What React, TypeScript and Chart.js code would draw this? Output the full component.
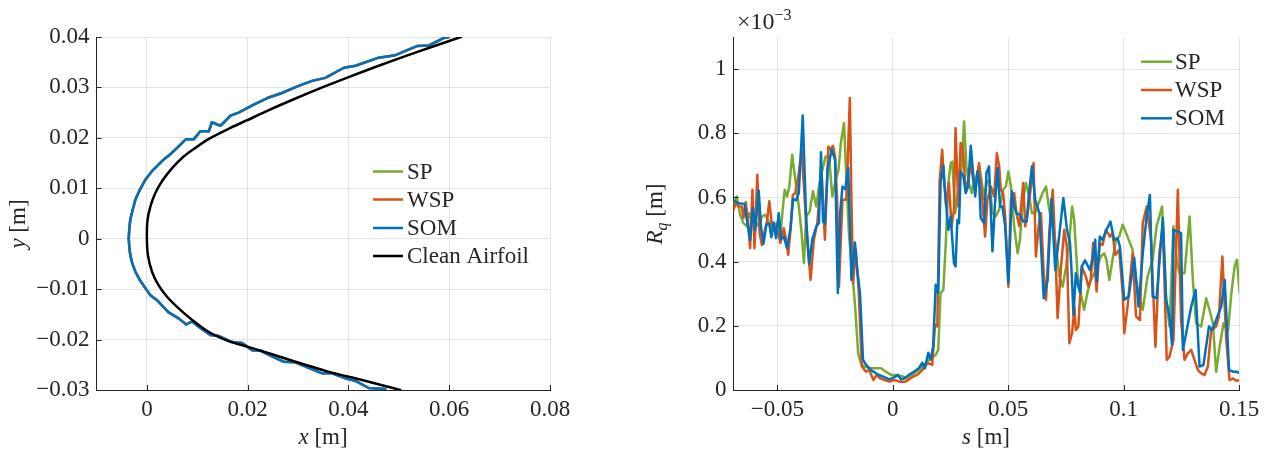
import React, { useEffect, useRef } from 'react';
import { Chart, registerables } from 'chart.js';

Chart.register(...registerables);

const FONT = '"Liberation Serif", "Times New Roman", serif';
const TXT = '#262626';
const GRID = '#e3e3e3';
const C_SP = '#77AC30';
const C_WSP = '#D95319';
const C_SOM = '#0072BD';
const C_CLEAN = '#000000';

// ---- tick labels ----
const airfoilXTicks = [0, 0.02, 0.04, 0.06, 0.08];
const airfoilYTicks = [-0.03, -0.02, -0.01, 0, 0.01, 0.02, 0.03, 0.04];
const rqXTicks = [-0.05, 0, 0.05, 0.1, 0.15];
const rqYTicks = [0, 0.2, 0.4, 0.6, 0.8, 1];

const airfoilLegend = ['SP', 'WSP', 'SOM', 'Clean Airfoil'];
const rqLegend = ['SP', 'WSP', 'SOM'];

// ---- left plot: airfoil contours [x, y] in m ----
const cleanAirfoil: [number, number][] = [
  [0.0623, 0.04], [0.0527, 0.0367], [0.046, 0.0343], [0.0399, 0.032], [0.0348, 0.03],
  [0.0295, 0.0278], [0.0242, 0.0255], [0.0199, 0.0235], [0.0162, 0.0218], [0.0123, 0.0198],
  [0.0096, 0.018], [0.0073, 0.0163], [0.005, 0.014], [0.003, 0.0114], [0.0017, 0.0091],
  [0.0007, 0.0064], [0.0001, 0.0035], [0, 0], [0.0002, -0.0032], [0.001, -0.0065],
  [0.0023, -0.0092], [0.004, -0.0115], [0.0063, -0.0138], [0.009, -0.0161], [0.0123, -0.0185],
  [0.0162, -0.0203], [0.0199, -0.0214], [0.0242, -0.0227], [0.0295, -0.0244], [0.0361, -0.0264],
  [0.0427, -0.028], [0.0503, -0.03],
];

const somAirfoil: [number, number][] = [
  [0.0599, 0.04], [0.0589, 0.0398], [0.0559, 0.0383], [0.0536, 0.0382], [0.0493, 0.0364],
  [0.046, 0.0359], [0.0414, 0.0343], [0.0391, 0.0339], [0.0354, 0.0319], [0.0328, 0.0313],
  [0.0301, 0.0303], [0.0268, 0.0289], [0.0239, 0.0279], [0.0212, 0.0266], [0.0182, 0.025],
  [0.0166, 0.0244], [0.0146, 0.0224], [0.0129, 0.0231], [0.0123, 0.0213], [0.0106, 0.0213],
  [0.0093, 0.0197], [0.0077, 0.0197], [0.006, 0.018], [0.0047, 0.0168], [0.003, 0.0154],
  [0.001, 0.0134], [-0.0003, 0.0117], [-0.0014, 0.0097], [-0.0023, 0.0077], [-0.0028, 0.0058],
  [-0.0033, 0.0038], [-0.0035, 0.0018], [-0.0036, 0], [-0.0035, -0.0016], [-0.0033, -0.0032],
  [-0.0029, -0.0049], [-0.0023, -0.0065], [-0.0014, -0.0082], [-0.0003, -0.0098], [0.0007, -0.0112],
  [0.002, -0.0122], [0.0043, -0.0146], [0.0063, -0.0158], [0.0078, -0.017], [0.009, -0.0164],
  [0.0106, -0.0177], [0.0126, -0.0191], [0.0143, -0.0193], [0.0169, -0.0205], [0.0189, -0.0207],
  [0.0209, -0.0221], [0.0225, -0.0222], [0.0249, -0.0234], [0.0272, -0.0244], [0.0295, -0.0245],
  [0.0321, -0.0256], [0.0348, -0.0267], [0.0368, -0.0267], [0.0394, -0.0277], [0.0414, -0.0282],
  [0.044, -0.0296], [0.0473, -0.0298],
];
// SP and WSP reconstructions lie underneath SOM in the picture
const spAirfoil = somAirfoil;
const wspAirfoil = somAirfoil;

// ---- right plot: R_q (x 1e-3 m) along s [m] ----
const spRq: [number, number][] = [
  [-0.0693, 0.572], [-0.0676, 0.603], [-0.0661, 0.546], [-0.0647, 0.52], [-0.0632, 0.51],
  [-0.0622, 0.551], [-0.061, 0.53], [-0.0596, 0.525], [-0.0581, 0.51], [-0.0567, 0.541],
  [-0.0552, 0.546], [-0.0541, 0.53], [-0.0523, 0.51], [-0.0501, 0.52], [-0.0487, 0.478],
  [-0.0477, 0.562], [-0.0468, 0.624], [-0.0458, 0.603], [-0.0448, 0.634], [-0.0436, 0.733],
  [-0.0422, 0.655], [-0.0407, 0.572], [-0.0395, 0.489], [-0.0385, 0.395], [-0.0375, 0.541],
  [-0.036, 0.556], [-0.0346, 0.619], [-0.0331, 0.572], [-0.032, 0.634], [-0.0305, 0.686],
  [-0.0291, 0.728], [-0.0276, 0.728], [-0.0262, 0.603], [-0.025, 0.645], [-0.0235, 0.686],
  [-0.0225, 0.77], [-0.0211, 0.832], [-0.0201, 0.655], [-0.0189, 0.478], [-0.0174, 0.354],
  [-0.0163, 0.26], [-0.015, 0.114], [-0.0138, 0.083], [-0.0124, 0.073], [-0.0102, 0.068],
  [-0.0073, 0.068], [-0.0051, 0.068], [-0.0029, 0.057], [-0.0007, 0.047], [0.0015, 0.047],
  [0.0044, 0.042], [0.0055, 0.036], [0.0084, 0.047], [0.0113, 0.062], [0.0142, 0.083],
  [0.0164, 0.099], [0.0186, 0.109], [0.0197, 0.125], [0.0207, 0.302], [0.0219, 0.312],
  [0.0229, 0.447], [0.0241, 0.645], [0.0251, 0.707], [0.0258, 0.712], [0.027, 0.551],
  [0.0284, 0.624], [0.0299, 0.697], [0.0309, 0.837], [0.0319, 0.697], [0.033, 0.645],
  [0.0342, 0.614], [0.0352, 0.655], [0.0362, 0.666], [0.0374, 0.697], [0.0386, 0.645],
  [0.0396, 0.593], [0.0406, 0.645], [0.0417, 0.655], [0.0432, 0.551], [0.0446, 0.541],
  [0.0461, 0.562], [0.0478, 0.624], [0.049, 0.634], [0.0501, 0.681], [0.0512, 0.634],
  [0.0526, 0.51], [0.0541, 0.426], [0.0551, 0.468], [0.0562, 0.582], [0.0577, 0.645],
  [0.0591, 0.603], [0.0603, 0.551], [0.0617, 0.551], [0.0632, 0.582], [0.0649, 0.614],
  [0.0664, 0.634], [0.0678, 0.562], [0.0693, 0.51], [0.0707, 0.447], [0.0722, 0.354],
  [0.0736, 0.322], [0.0751, 0.385], [0.0765, 0.468], [0.0777, 0.572], [0.0786, 0.53],
  [0.08, 0.364], [0.0814, 0.302], [0.0829, 0.25], [0.0843, 0.302], [0.0858, 0.343],
  [0.088, 0.374], [0.0901, 0.416], [0.0916, 0.426], [0.0926, 0.406], [0.0938, 0.343],
  [0.0952, 0.406], [0.0967, 0.468], [0.0981, 0.478], [0.0996, 0.515], [0.1017, 0.478],
  [0.1039, 0.437], [0.1054, 0.343], [0.1068, 0.291], [0.1083, 0.25], [0.1104, 0.354],
  [0.1126, 0.406], [0.1143, 0.51], [0.1155, 0.541], [0.1167, 0.572], [0.1184, 0.291],
  [0.1199, 0.198], [0.1216, 0.51], [0.123, 0.406], [0.1242, 0.364], [0.1264, 0.364],
  [0.1286, 0.541], [0.13, 0.343], [0.1314, 0.208], [0.1336, 0.198], [0.1358, 0.286],
  [0.1372, 0.25], [0.1387, 0.208], [0.1401, 0.057], [0.1416, 0.135], [0.1433, 0.208],
  [0.1452, 0.182], [0.1467, 0.302], [0.1481, 0.385], [0.1491, 0.406], [0.1503, 0.302],
];

const wspRq: [number, number][] = [
  [-0.0693, 0.556], [-0.068, 0.582], [-0.0669, 0.572], [-0.0654, 0.572], [-0.0647, 0.536],
  [-0.0637, 0.585], [-0.0628, 0.53], [-0.0618, 0.442], [-0.0608, 0.624], [-0.0599, 0.442],
  [-0.0587, 0.671], [-0.0577, 0.489], [-0.0567, 0.452], [-0.0555, 0.494], [-0.0545, 0.525],
  [-0.0535, 0.588], [-0.0523, 0.51], [-0.0509, 0.51], [-0.0497, 0.489], [-0.0487, 0.458],
  [-0.0472, 0.504], [-0.0462, 0.468], [-0.0453, 0.421], [-0.0443, 0.499], [-0.0433, 0.608],
  [-0.0422, 0.614], [-0.0407, 0.676], [-0.0395, 0.749], [-0.0384, 0.624], [-0.0371, 0.468],
  [-0.0356, 0.343], [-0.0342, 0.468], [-0.0327, 0.52], [-0.0308, 0.676], [-0.0294, 0.468],
  [-0.0279, 0.759], [-0.0269, 0.749], [-0.0259, 0.761], [-0.025, 0.728], [-0.0241, 0.593],
  [-0.0233, 0.322], [-0.0218, 0.593], [-0.0201, 0.593], [-0.0186, 0.91], [-0.0179, 0.593],
  [-0.0172, 0.333], [-0.016, 0.437], [-0.0148, 0.312], [-0.0134, 0.073], [-0.0116, 0.057],
  [-0.0102, 0.062], [-0.0084, 0.031], [-0.007, 0.047], [-0.0055, 0.036], [-0.0036, 0.031],
  [-0.0015, 0.026], [0.0007, 0.031], [0.0029, 0.026], [0.0055, 0.026], [0.0084, 0.04],
  [0.0106, 0.047], [0.0128, 0.062], [0.0142, 0.078], [0.0157, 0.083], [0.0171, 0.078],
  [0.0183, 0.203], [0.0193, 0.198], [0.0203, 0.65], [0.0214, 0.749], [0.0222, 0.655],
  [0.0232, 0.572], [0.0243, 0.645], [0.0255, 0.51], [0.0265, 0.562], [0.0272, 0.816],
  [0.0284, 0.572], [0.0294, 0.77], [0.0304, 0.749], [0.0316, 0.624], [0.0328, 0.655],
  [0.0338, 0.707], [0.0348, 0.655], [0.0359, 0.634], [0.0374, 0.707], [0.0388, 0.593],
  [0.04, 0.478], [0.041, 0.593], [0.0425, 0.634], [0.0439, 0.603], [0.0451, 0.738],
  [0.0461, 0.697], [0.0468, 0.624], [0.0478, 0.614], [0.0487, 0.541], [0.0501, 0.322],
  [0.0512, 0.593], [0.0526, 0.614], [0.0536, 0.551], [0.0548, 0.51], [0.0565, 0.645],
  [0.0574, 0.51], [0.0584, 0.551], [0.0599, 0.634], [0.061, 0.707], [0.062, 0.416],
  [0.0632, 0.51], [0.0642, 0.551], [0.0654, 0.364], [0.0664, 0.281], [0.0678, 0.489],
  [0.0693, 0.624], [0.0704, 0.447], [0.0714, 0.224], [0.0729, 0.385], [0.0743, 0.499],
  [0.0754, 0.447], [0.0765, 0.146], [0.0777, 0.177], [0.0787, 0.26], [0.0793, 0.187],
  [0.0804, 0.198], [0.0819, 0.385], [0.0836, 0.354], [0.0848, 0.322], [0.0858, 0.343],
  [0.0868, 0.458], [0.0883, 0.307], [0.0897, 0.458], [0.0909, 0.452], [0.0923, 0.499],
  [0.0941, 0.478], [0.0952, 0.489], [0.0964, 0.421], [0.0981, 0.437], [0.0996, 0.302],
  [0.1003, 0.177], [0.1017, 0.26], [0.1039, 0.426], [0.1054, 0.229], [0.1071, 0.218],
  [0.1083, 0.52], [0.11, 0.572], [0.1119, 0.468], [0.1138, 0.135], [0.1155, 0.426],
  [0.117, 0.51], [0.1187, 0.094], [0.1199, 0.104], [0.1216, 0.156], [0.1235, 0.624],
  [0.1249, 0.218], [0.1264, 0.094], [0.1278, 0.114], [0.1293, 0.125], [0.1307, 0.094],
  [0.1322, 0.062], [0.1336, 0.052], [0.1351, 0.047], [0.1365, 0.073], [0.138, 0.187],
  [0.1401, 0.198], [0.1413, 0.229], [0.1428, 0.416], [0.1445, 0.156], [0.1459, 0.031],
  [0.1474, 0.036], [0.1488, 0.029], [0.1503, 0.031],
];

const somRq: [number, number][] = [
  [-0.0693, 0.593], [-0.0669, 0.582], [-0.0642, 0.58], [-0.0632, 0.53], [-0.0618, 0.468],
  [-0.0606, 0.567], [-0.0596, 0.499], [-0.0581, 0.622], [-0.0571, 0.51], [-0.056, 0.456],
  [-0.0548, 0.515], [-0.0535, 0.518], [-0.0526, 0.476], [-0.0516, 0.522], [-0.0506, 0.473],
  [-0.0494, 0.551], [-0.0484, 0.47], [-0.0472, 0.478], [-0.0458, 0.442], [-0.0443, 0.504],
  [-0.0432, 0.595], [-0.0419, 0.591], [-0.0407, 0.614], [-0.039, 0.855], [-0.0375, 0.53],
  [-0.0362, 0.393], [-0.0349, 0.468], [-0.0331, 0.51], [-0.032, 0.52], [-0.0311, 0.741],
  [-0.0302, 0.525], [-0.0294, 0.518], [-0.0282, 0.692], [-0.0273, 0.718], [-0.0265, 0.749],
  [-0.025, 0.718], [-0.0238, 0.302], [-0.0228, 0.551], [-0.0218, 0.634], [-0.0206, 0.626],
  [-0.0193, 0.692], [-0.0179, 0.343], [-0.0164, 0.46], [-0.0154, 0.374], [-0.0142, 0.302],
  [-0.0129, 0.094], [-0.0115, 0.078], [-0.0094, 0.062], [-0.0073, 0.052], [-0.0044, 0.042],
  [-0.0015, 0.033], [0.0007, 0.04], [0.0022, 0.047], [0.0036, 0.033], [0.0048, 0.036],
  [0.007, 0.047], [0.0091, 0.057], [0.0113, 0.068], [0.0128, 0.085], [0.0139, 0.068],
  [0.0154, 0.116], [0.0164, 0.094], [0.0175, 0.135], [0.0186, 0.328], [0.0197, 0.302],
  [0.0207, 0.645], [0.0219, 0.699], [0.0229, 0.593], [0.0241, 0.499], [0.0251, 0.541],
  [0.0265, 0.395], [0.0272, 0.385], [0.028, 0.53], [0.0287, 0.52], [0.0294, 0.681],
  [0.0306, 0.666], [0.0316, 0.614], [0.0326, 0.634], [0.0338, 0.761], [0.0348, 0.676],
  [0.0357, 0.603], [0.0367, 0.681], [0.0374, 0.655], [0.0381, 0.536], [0.0396, 0.52],
  [0.0406, 0.676], [0.0417, 0.697], [0.0432, 0.432], [0.0442, 0.572], [0.0454, 0.692],
  [0.0465, 0.572], [0.0475, 0.572], [0.0487, 0.51], [0.0501, 0.333], [0.0516, 0.619],
  [0.0526, 0.572], [0.0536, 0.551], [0.0551, 0.546], [0.0565, 0.525], [0.058, 0.525],
  [0.0591, 0.619], [0.0603, 0.697], [0.0617, 0.593], [0.0635, 0.551], [0.0654, 0.286],
  [0.0671, 0.343], [0.0687, 0.595], [0.0704, 0.374], [0.0719, 0.468], [0.0739, 0.598],
  [0.0755, 0.499], [0.0768, 0.458], [0.0775, 0.364], [0.0783, 0.234], [0.0793, 0.364],
  [0.0804, 0.322], [0.0812, 0.302], [0.0819, 0.385], [0.0833, 0.404], [0.0854, 0.374],
  [0.0868, 0.416], [0.0877, 0.468], [0.0884, 0.338], [0.0897, 0.478], [0.0909, 0.468],
  [0.0926, 0.499], [0.0943, 0.525], [0.0959, 0.468], [0.0974, 0.473], [0.0984, 0.447],
  [0.1003, 0.281], [0.1022, 0.291], [0.1046, 0.411], [0.1065, 0.26], [0.1083, 0.426],
  [0.11, 0.541], [0.1114, 0.608], [0.1126, 0.291], [0.1143, 0.286], [0.117, 0.536],
  [0.1184, 0.281], [0.1199, 0.229], [0.121, 0.14], [0.1216, 0.499], [0.1249, 0.489],
  [0.1257, 0.125], [0.1271, 0.177], [0.1293, 0.26], [0.1312, 0.312], [0.1329, 0.073],
  [0.1346, 0.078], [0.137, 0.198], [0.1384, 0.187], [0.1401, 0.218], [0.1423, 0.26],
  [0.1438, 0.343], [0.1457, 0.062], [0.1474, 0.057], [0.1488, 0.057], [0.1503, 0.052],
];

// ---------------------------------------------------------------------------

type Part = { t: string; italic?: boolean; size?: number; dy?: number };

function drawRich(ctx: CanvasRenderingContext2D, parts: Part[], x: number, y: number, align: 'left' | 'center') {
  const fontOf = (p: Part) => `${p.italic ? 'italic ' : ''}${p.size ?? 23}px ${FONT}`;
  let total = 0;
  const widths = parts.map((p) => {
    ctx.font = fontOf(p);
    const w = ctx.measureText(p.t).width;
    total += w;
    return w;
  });
  let cx = align === 'center' ? x - total / 2 : x;
  ctx.textAlign = 'left';
  ctx.textBaseline = 'alphabetic';
  ctx.fillStyle = TXT;
  parts.forEach((p, i) => {
    ctx.font = fontOf(p);
    ctx.fillText(p.t, cx, y + (p.dy ?? 0));
    cx += widths[i];
  });
}

const fmt = (v: number) => {
  if (Math.abs(v) < 1e-9) return '0';
  return String(parseFloat(v.toFixed(4))).replace('-', '\u2212');
};

type Overlay = {
  xTitle: Part[];
  xTitlePos: [number, number];
  yTitle: Part[];
  yTitlePos: [number, number];
  legend: { labels: string[]; colors: string[]; x0: number; x1: number; tx: number; ys: number[] };
  extra?: (ctx: CanvasRenderingContext2D) => void;
};

function overlayPlugin(o: Overlay) {
  return {
    id: 'overlay',
    afterDraw(chart: any) {
      const ctx: CanvasRenderingContext2D = chart.ctx;
      const area = chart.chartArea;
      const xs = chart.scales.x;
      const ys = chart.scales.y;
      ctx.save();
      // inward tick marks
      ctx.strokeStyle = TXT;
      ctx.lineWidth = 1;
      ctx.beginPath();
      xs.ticks.forEach((t: any) => {
        const px = Math.round(xs.getPixelForValue(t.value)) + 0.5;
        ctx.moveTo(px, area.bottom);
        ctx.lineTo(px, area.bottom - 5);
      });
      ys.ticks.forEach((t: any) => {
        const py = Math.round(ys.getPixelForValue(t.value)) + 0.5;
        ctx.moveTo(area.left, py);
        ctx.lineTo(area.left + 5, py);
      });
      ctx.stroke();
      // axis titles
      drawRich(ctx, o.xTitle, o.xTitlePos[0], o.xTitlePos[1], 'center');
      ctx.save();
      ctx.translate(o.yTitlePos[0], o.yTitlePos[1]);
      ctx.rotate(-Math.PI / 2);
      drawRich(ctx, o.yTitle, 0, 0, 'center');
      ctx.restore();
      // legend
      const L = o.legend;
      L.labels.forEach((lab, i) => {
        ctx.strokeStyle = L.colors[i];
        ctx.lineWidth = 2.5;
        ctx.beginPath();
        ctx.moveTo(L.x0, L.ys[i]);
        ctx.lineTo(L.x1, L.ys[i]);
        ctx.stroke();
        ctx.fillStyle = TXT;
        ctx.font = `23px ${FONT}`;
        ctx.textAlign = 'left';
        ctx.textBaseline = 'middle';
        ctx.fillText(lab, L.tx, L.ys[i] + 1);
      });
      if (o.extra) o.extra(ctx);
      ctx.restore();
    },
  };
}

const lineDs = (label: string, pts: [number, number][], color: string, order: number) => ({
  label,
  data: pts.map(([x, y]) => ({ x, y })),
  borderColor: color,
  backgroundColor: color,
  borderWidth: 2.5,
  pointRadius: 0,
  showLine: true,
  tension: 0,
  borderJoinStyle: 'round' as const,
  borderCapStyle: 'round' as const,
  order,
});

function axisOpts(min: number, max: number, ticks: number[], fit: (s: any) => void, pad: number) {
  return {
    type: 'linear' as const,
    min,
    max,
    afterBuildTicks: (s: any) => {
      s.ticks = ticks.map((v) => ({ value: v }));
    },
    afterFit: fit,
    grid: { color: GRID, lineWidth: 1, drawTicks: false },
    border: { display: true, color: TXT, width: 1 },
    ticks: {
      padding: pad,
      color: TXT,
      font: { family: FONT, size: 23 },
      callback: (v: any) => fmt(Number(v)),
      autoSkip: false,
      maxRotation: 0,
    },
  };
}

export default function App() {
  const leftRef = useRef<HTMLCanvasElement>(null);
  const rightRef = useRef<HTMLCanvasElement>(null);

  useEffect(() => {
    const left = new Chart(leftRef.current!, {
      type: 'scatter',
      data: {
        datasets: [
          lineDs('SP', spAirfoil, C_SP, 3),
          lineDs('WSP', wspAirfoil, C_WSP, 2),
          lineDs('SOM', somAirfoil, C_SOM, 1),
          { ...lineDs('Clean Airfoil', cleanAirfoil, C_CLEAN, 0), tension: 0.25 },
        ],
      },
      options: {
        animation: false,
        responsive: false,
        maintainAspectRatio: false,
        layout: { padding: { top: 37, right: 50, left: 0, bottom: 0 } },
        plugins: { legend: { display: false }, tooltip: { enabled: false } },
        scales: {
          x: axisOpts(-0.01, 0.08, airfoilXTicks, (s) => { s.height = 63; }, 6),
          y: axisOpts(-0.03, 0.04, airfoilYTicks, (s) => { s.width = 96.5; }, 7),
        },
      },
      plugins: [
        overlayPlugin({
          xTitle: [{ t: 'x', italic: true }, { t: ' [m]' }],
          xTitlePos: [323, 444],
          yTitle: [{ t: 'y', italic: true }, { t: ' [m]' }],
          yTitlePos: [25, 224],
          legend: {
            labels: airfoilLegend,
            colors: [C_SP, C_WSP, C_SOM, C_CLEAN],
            x0: 373,
            x1: 403,
            tx: 407,
            ys: [171.5, 199.5, 228, 256],
          },
        }),
      ],
    } as any);

    const OFF = 600;
    const right = new Chart(rightRef.current!, {
      type: 'scatter',
      data: {
        datasets: [
          lineDs('SP', spRq, C_SP, 3),
          lineDs('WSP', wspRq, C_WSP, 2),
          lineDs('SOM', somRq, C_SOM, 1),
        ],
      },
      options: {
        animation: false,
        responsive: false,
        maintainAspectRatio: false,
        layout: { padding: { top: 37, right: 31, left: 0, bottom: 0 } },
        plugins: { legend: { display: false }, tooltip: { enabled: false } },
        scales: {
          x: axisOpts(-0.069, 0.15, rqXTicks, (s) => { s.height = 63; }, 6),
          y: axisOpts(0, 1.1, rqYTicks, (s) => { s.width = 133.5; }, 7),
        },
      },
      plugins: [
        overlayPlugin({
          xTitle: [{ t: 's', italic: true }, { t: ' [m]' }],
          xTitlePos: [986 - OFF, 444],
          yTitle: [{ t: 'R', italic: true }, { t: 'q', italic: true, size: 16, dy: 5 }, { t: ' [m]' }],
          yTitlePos: [662 - OFF, 214],
          legend: {
            labels: rqLegend,
            colors: [C_SP, C_WSP, C_SOM],
            x0: 1141 - OFF,
            x1: 1172 - OFF,
            tx: 1175 - OFF,
            ys: [61.7, 90, 118.3],
          },
          extra: (ctx) => {
            drawRich(
              ctx,
              [{ t: '\u00d710', size: 24 }, { t: '\u22123', size: 16, dy: -9 }],
              737 - OFF,
              29,
              'left'
            );
          },
        }),
      ],
    } as any);

    return () => {
      left.destroy();
      right.destroy();
    };
  }, []);

  return (
    <div style={{ position: 'absolute', left: 0, top: 0, width: 1270, height: 453, background: '#fff' }}>
      <canvas ref={leftRef} width={600} height={453} style={{ position: 'absolute', left: 0, top: 0, width: 600, height: 453 }} />
      <canvas ref={rightRef} width={670} height={453} style={{ position: 'absolute', left: 600, top: 0, width: 670, height: 453 }} />
    </div>
  );
}
